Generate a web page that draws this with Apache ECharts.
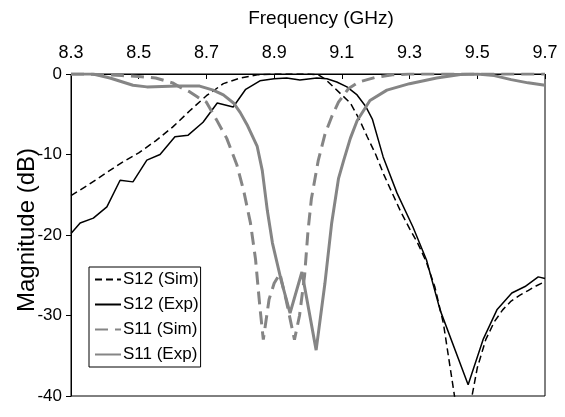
<!DOCTYPE html>
<html>
<head>
<meta charset="utf-8">
<script src="https://cdn.jsdelivr.net/npm/echarts@6/dist/echarts.min.js"></script>
<style>
    html, body { margin: 0; padding: 0; background: #fff; }
    #sParamChart { width: 565px; height: 417px; }
</style>
</head>
<body>
<div id="sParamChart"></div>
<script>
    // tick labels
    const freqTicks = [8.3, 8.5, 8.7, 8.9, 9.1, 9.3, 9.5, 9.7]

    // S12 (Sim)
    const s12SimFreq = [8.30, 8.35, 8.40, 8.45, 8.50, 8.55, 8.60, 8.65, 8.70, 8.75, 8.80, 8.85, 8.90, 8.95, 9.00, 9.03, 9.05, 9.075, 9.10, 9.125, 9.15, 9.175, 9.20, 9.225, 9.25, 9.275, 9.30, 9.325, 9.35, 9.375, 9.40, 9.42, 9.44, 9.46, 9.48, 9.50, 9.525, 9.55, 9.575, 9.60, 9.625, 9.65, 9.675, 9.70]
    const s12SimMag = [-15.1, -13.8, -12.4, -11.0, -9.8, -8.3, -6.6, -4.6, -2.7, -1.2, -0.5, -0.1, 0, 0, 0, -0.1, -0.6, -1.6, -2.6, -3.6, -5.5, -7.8, -10.0, -12.6, -14.9, -17.2, -19.2, -21.1, -23.4, -26.5, -31.0, -36.5, -42.0, -45.0, -41.0, -36.5, -33.0, -30.8, -29.3, -28.2, -27.5, -26.9, -26.3, -25.8]

    // S12 (Exp)
    const s12ExpFreq = [8.30, 8.327, 8.366, 8.406, 8.445, 8.483, 8.524, 8.563, 8.607, 8.646, 8.69, 8.732, 8.779, 8.816, 8.858, 8.90, 8.937, 8.976, 9.026, 9.056, 9.085, 9.115, 9.145, 9.17, 9.19, 9.222, 9.263, 9.31, 9.35, 9.39, 9.473, 9.517, 9.558, 9.602, 9.641, 9.68, 9.70]
    const s12ExpMag = [-19.8, -18.5, -17.9, -16.5, -13.2, -13.4, -10.7, -10.0, -7.8, -7.6, -6.0, -3.6, -4.1, -1.9, -0.85, -0.6, -0.5, -0.75, -0.5, -0.6, -1.0, -1.6, -2.6, -4.0, -5.6, -10.3, -14.8, -19.0, -23.1, -29.3, -38.6, -33.0, -29.3, -27.2, -26.4, -25.2, -25.4]

    // S11 (Sim)
    const s11SimFreq = [8.30, 8.35, 8.40, 8.45, 8.50, 8.55, 8.60, 8.625, 8.65, 8.675, 8.70, 8.73, 8.76, 8.79, 8.81, 8.83, 8.845, 8.858, 8.868, 8.885, 8.90, 8.917, 8.935, 8.96, 8.975, 8.99, 9.00, 9.01, 9.03, 9.05, 9.07, 9.09, 9.12, 9.15, 9.20, 9.25, 9.30, 9.40, 9.50, 9.60, 9.70]
    const s11SimMag = [0, 0, -0.1, -0.2, -0.3, -0.5, -1.1, -1.7, -2.2, -2.9, -3.5, -5.7, -8.0, -11.3, -14.5, -18.5, -23.0, -29.0, -33.0, -28.0, -26.0, -24.8, -28.0, -33.0, -30.0, -25.0, -19.5, -15.5, -10.8, -7.5, -5.3, -3.5, -1.8, -1.0, -0.4, -0.1, 0, 0, 0, 0, 0]

    // S11 (Exp)
    const s11ExpFreq = [8.30, 8.365, 8.415, 8.483, 8.524, 8.613, 8.68, 8.72, 8.75, 8.78, 8.80, 8.82, 8.85, 8.865, 8.88, 8.895, 8.92, 8.947, 8.982, 9.024, 9.05, 9.07, 9.09, 9.105, 9.125, 9.145, 9.183, 9.233, 9.30, 9.38, 9.45, 9.50, 9.55, 9.60, 9.65, 9.70]
    const s11ExpMag = [0, 0, -0.5, -1.4, -1.6, -1.5, -1.5, -2.0, -2.6, -3.6, -4.8, -6.3, -9.0, -12.0, -17.0, -21.0, -25.5, -29.7, -24.6, -34.3, -26.0, -18.5, -13.0, -10.8, -8.0, -5.8, -3.3, -2.0, -1.2, -0.5, -0.05, 0, -0.2, -0.7, -1.1, -1.4]

    const font = '"Liberation Sans", Arial, Helvetica, sans-serif'
    const gray = '#858585'

    const pairs = (xs, ys) => xs.map((x, i) => [x, ys[i]])

    let option = {
        animation: false,
        grid: {
            left: 71,
            right: 20,
            top: 74,
            bottom: 21,
            containLabel: false,
            outerBoundsMode: 'none',
            show: true,
            borderColor: '#000',
            borderWidth: 1
        },
        legend: {
            orient: 'vertical',
            left: 89,
            top: 267,
            padding: [4, 2, 4, 5],
            itemWidth: 26,
            itemHeight: 20,
            itemGap: 8,
            borderColor: '#000',
            borderWidth: 1,
            borderRadius: 0,
            backgroundColor: '#fff',
            itemStyle: { opacity: 0 },
            textStyle: {
                fontFamily: font,
                fontSize: 17,
                color: '#000',
                padding: [0, 0, 0, -3]
            },
            data: ['S12 (Sim)', 'S12 (Exp)', 'S11 (Sim)', 'S11 (Exp)']
        },
        xAxis: {
            type: 'value',
            position: 'top',
            min: 8.3,
            max: 9.7,
            name: 'Frequency (GHz)',
            nameLocation: 'middle',
            nameGap: 46,
            nameMoveOverlap: false,
            nameTextStyle: {
                fontFamily: font,
                fontSize: 19,
                color: '#000',
                padding: [0, 0, 0, 26]
            },
            axisLine: { lineStyle: { color: '#000', width: 1 } },
            axisTick: {
                inside: true,
                length: 5,
                customValues: freqTicks,
                lineStyle: { color: '#000' }
            },
            axisLabel: {
                customValues: freqTicks,
                formatter: v => v.toFixed(1),
                margin: 12,
                fontFamily: font,
                fontSize: 18,
                color: '#000'
            },
            splitLine: { show: false }
        },
        yAxis: {
            type: 'value',
            min: -40,
            max: 0,
            interval: 10,
            name: 'Magnitude (dB)',
            nameLocation: 'middle',
            nameRotate: 90,
            nameGap: 32,
            nameMoveOverlap: false,
            nameTextStyle: {
                fontFamily: font,
                fontSize: 24,
                color: '#000',
                padding: [0, 0, 0, 10]
            },
            axisLine: { show: true, lineStyle: { color: '#000', width: 1 } },
            axisTick: { show: true, length: 5, lineStyle: { color: '#000' } },
            axisLabel: {
                margin: 9,
                fontFamily: font,
                fontSize: 17,
                color: '#000'
            },
            splitLine: { show: false }
        },
        series: [
            {
                name: 'S12 (Sim)',
                type: 'line',
                symbol: 'none',
                color: '#000',
                lineStyle: { color: '#000', width: 1.5, type: [7, 4] },
                data: pairs(s12SimFreq, s12SimMag)
            },
            {
                name: 'S12 (Exp)',
                type: 'line',
                symbol: 'none',
                color: '#000',
                lineStyle: { color: '#000', width: 1.5 },
                data: pairs(s12ExpFreq, s12ExpMag)
            },
            {
                name: 'S11 (Sim)',
                type: 'line',
                symbol: 'none',
                color: gray,
                lineStyle: { color: gray, width: 3, type: [13, 7] },
                data: pairs(s11SimFreq, s11SimMag)
            },
            {
                name: 'S11 (Exp)',
                type: 'line',
                symbol: 'none',
                color: gray,
                lineStyle: { color: gray, width: 3 },
                data: pairs(s11ExpFreq, s11ExpMag)
            }
        ]
    }
    let myChart = echarts.init(document.getElementById('sParamChart'))
    myChart.setOption(option)
</script>
</body>
</html>
